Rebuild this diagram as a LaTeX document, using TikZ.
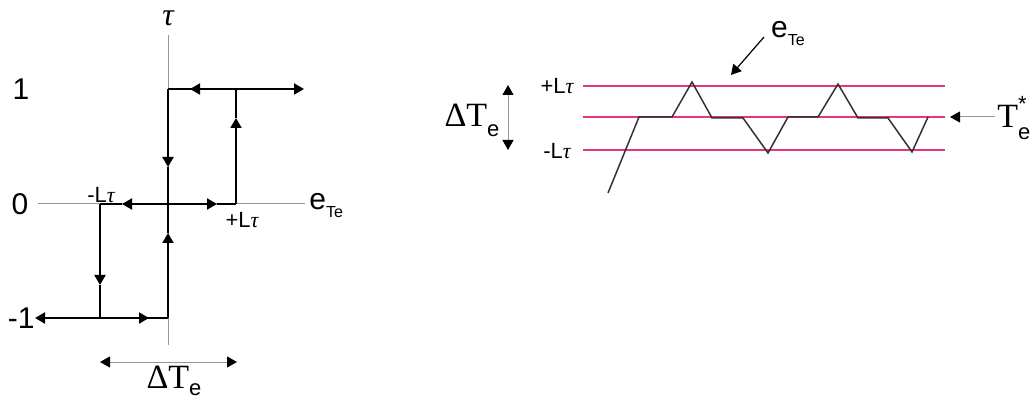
\documentclass[tikz,border=0pt]{standalone}
\usepackage{fontspec}
\setmainfont{Liberation Sans}
\newfontfamily\tms{Liberation Serif}
\usetikzlibrary{arrows.meta}
\definecolor{pinkline}{RGB}{228,52,130}
\definecolor{axisgrey}{RGB}{150,150,150}
\newcommand\tauT{{\tms\itshape τ}}
\newcommand\fsz[1]{\fontsize{#1}{#1}\selectfont}
\begin{document}
\begin{tikzpicture}[x=0.5pt,y=-0.5pt,
  arrowed/.style={-{Triangle[length=5pt,width=5.5pt,black]}},
  dblarrow/.style={{Triangle[length=5pt,width=5.5pt,black]}-{Triangle[length=5pt,width=5.5pt,black]}},
  loopline/.style={line width=1pt,black},
  axisline/.style={line width=0.5pt,axisgrey},
  band/.style={line width=1pt,pinkline},
  wave/.style={line width=0.75pt,black!80},
  lbl/.style={inner sep=0pt},
 ]
\useasboundingbox (0,0) rectangle (1032,400);
% ---------------- left: hysteresis ----------------
\coordinate (vtop) at (168,35);
\coordinate (vbot) at (168,345);
\coordinate (hleft) at (38,204);
\coordinate (hright) at (305,204);
\draw[axisline] (vtop) -- (vbot);
\draw[axisline] (hleft) -- (hright);
% corner points
\coordinate (U0) at (168,89);
\coordinate (U1) at (236,89);
\coordinate (U2) at (304,89);
\coordinate (M0) at (100,204);
\coordinate (M1) at (168,204);
\coordinate (M2) at (236,204);
\coordinate (B0) at (35,318);
\coordinate (B1) at (100,318);
\coordinate (B2) at (168,318);
% arrow tip points
\coordinate (tU) at (190,89);
\coordinate (tUp) at (236,118);
\coordinate (tDn) at (168,167);
\coordinate (tML) at (122,204);
\coordinate (tMR) at (217,204);
\coordinate (tLD) at (100,285);
\coordinate (tBR) at (149,318);
\coordinate (tBU) at (168,233);
% upper
\draw[loopline,arrowed] (U0) -- (U2);
\draw[loopline,arrowed] (U1) -- (tU);
\draw[loopline,arrowed] (M2) -- (tUp);
\draw[loopline] (tUp) -- (U1);
\draw[loopline,arrowed] (U0) -- (tDn);
\draw[loopline] (tDn) -- (M1);
% middle
\draw[loopline,arrowed] (M1) -- (tML);
\draw[loopline] (tML) -- (M0);
\draw[loopline,arrowed] (M1) -- (tMR);
\draw[loopline] (tMR) -- (M2);
% lower
\draw[loopline,arrowed] (M0) -- (tLD);
\draw[loopline] (tLD) -- (B1);
\draw[loopline,arrowed] (B2) -- (B0);
\draw[loopline,arrowed] (B1) -- (tBR);
\draw[loopline,arrowed] (B2) -- (tBU);
\draw[loopline] (tBU) -- (M1);
% labels
\node[lbl,font=\fsz{15}] (one) at (21,89) {1};
\node[lbl,font=\fsz{15}] (zero) at (20,204) {0};
\node[lbl,font=\fsz{15},anchor=east] (mone) at (35,318) {-1};
\node[lbl,font=\fsz{16}] (tau) at (168,18) {\tauT};
\node[lbl,anchor=west] (eTe) at (309,206) {\fsz{15}e\raisebox{-4pt}{\fsz{8}Te}};
\node[lbl,font=\fsz{11}] (mLt) at (101,195) {-L\tauT};
\node[lbl,font=\fsz{11}] (pLt) at (242,220) {+L\tauT};
% delta Te
\coordinate (dL) at (100,362);
\coordinate (dR) at (237,362);
\draw[axisline,dblarrow] (dL) -- (dR);
\node[lbl,anchor=base] (dTe) at (174,388) {{\tms\fsz{17}ΔT}\raisebox{-3.5pt}{\fsz{11}e}};
% ---------------- right: band ----------------
\coordinate (pA) at (583,86);
\coordinate (pB) at (945,86);
\coordinate (mA) at (583,117);
\coordinate (mB) at (945,117);
\coordinate (nA) at (583,150);
\coordinate (nB) at (945,150);
\draw[band] (pA) -- (pB);
\draw[band] (mA) -- (mB);
\draw[band] (nA) -- (nB);
\node[lbl,font=\fsz{11}] (rpL) at (557,86) {+L\tauT};
\node[lbl,font=\fsz{11}] (rmL) at (557,151) {-L\tauT};
\coordinate (vdT) at (508,85);
\coordinate (vdB) at (508,150);
\draw[axisline,dblarrow] (vdT) -- (vdB);
\node[lbl] (rdTe) at (472,120) {{\tms\fsz{17}ΔT}\raisebox{-5pt}{\fsz{11}e}};
% waveform
\coordinate (w0) at (608,193);
\coordinate (w1) at (639,117);
\coordinate (w2) at (672,117);
\coordinate (w3) at (692,82);
\coordinate (w4) at (712,118);
\coordinate (w5) at (743,118);
\coordinate (w6) at (768,153);
\coordinate (w7) at (788,117);
\coordinate (w8) at (818,117);
\coordinate (w9) at (838,84);
\coordinate (w10) at (858,118);
\coordinate (w11) at (888,118);
\coordinate (w12) at (912,152);
\coordinate (w13) at (928,117);
\draw[wave] (w0) -- (w1) -- (w2) -- (w3) -- (w4) -- (w5) -- (w6) -- (w7)
  -- (w8) -- (w9) -- (w10) -- (w11) -- (w12) -- (w13);
% e_Te pointer
\node[lbl] (reTe) at (788,34) {\fsz{15}e\raisebox{-4pt}{\fsz{8}Te}};
\coordinate (ePs) at (764,37);
\coordinate (ePe) at (731,75);
\draw[line width=0.6pt,black,arrowed] (ePs) -- (ePe);
% T_e^* pointer
\node[lbl,anchor=west] (Tstar) at (997,118) {{\tms\fsz{17}T}\rlap{\raisebox{8pt}{\fsz{11}*}}\raisebox{-6pt}{\fsz{11}e}};
\coordinate (tPs) at (995,117);
\coordinate (tPe) at (950,117);
\draw[axisline,arrowed] (tPs) -- (tPe);
\end{tikzpicture}
\end{document}
